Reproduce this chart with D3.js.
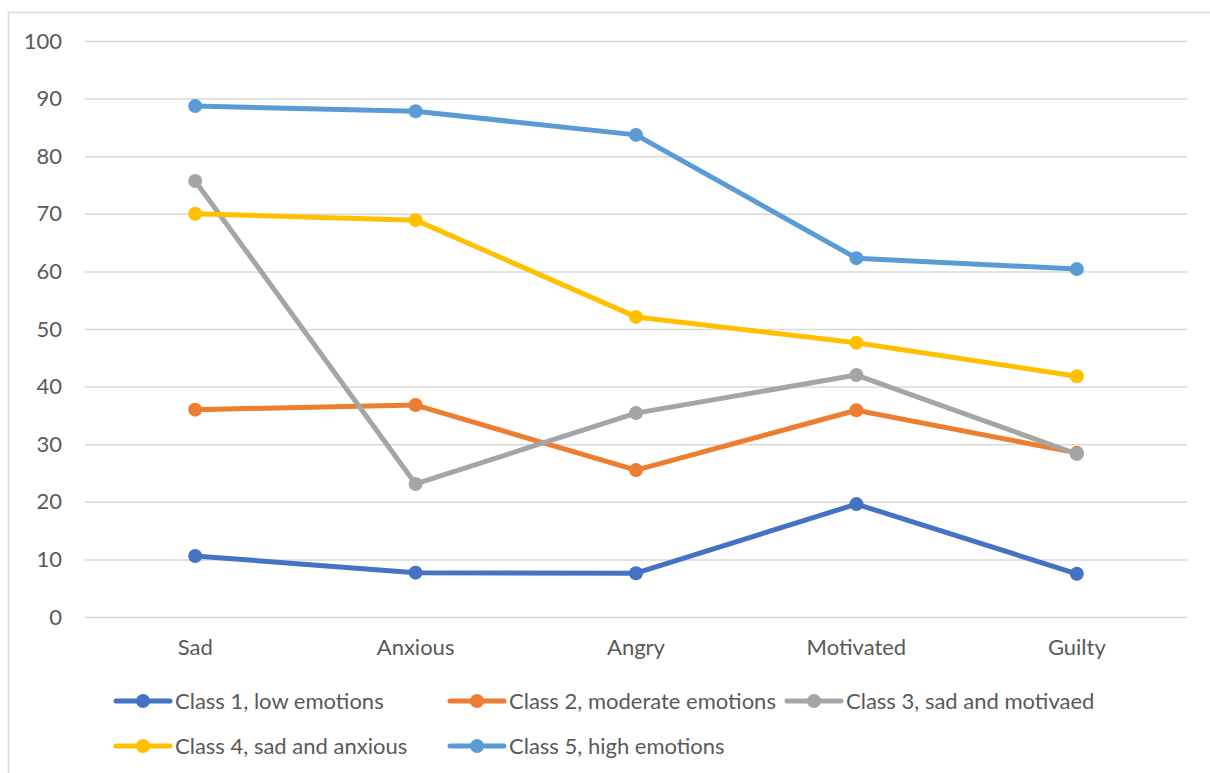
<!DOCTYPE html>
<html>
<head>
<meta charset="utf-8">
<script src="https://cdn.jsdelivr.net/npm/d3@7"></script>
<style>
  html, body { margin: 0; padding: 0; background: #fff; }
  svg { display: block; }
  text { font-family: Lato, "Open Sans", sans-serif; fill: #595959; }
</style>
</head>
<body>
<svg id="chart" width="1210" height="773"></svg>
<script>
// Emotion profile per latent class
const categories = ["Sad", "Anxious", "Angry", "Motivated", "Guilty"];
const seriesNames = [
  "Class 1, low emotions",
  "Class 2, moderate emotions",
  "Class 3, sad and motivaed",
  "Class 4, sad and anxious",
  "Class 5, high emotions"
];
const class1 = [10.6, 7.7, 7.6, 19.6, 7.5];
const class2 = [36.0, 36.8, 25.5, 35.9, 28.5];
const class3 = [75.7, 23.1, 35.4, 42.0, 28.3];
const class4 = [70.0, 68.9, 52.1, 47.6, 41.8];
const class5 = [88.7, 87.8, 83.7, 62.3, 60.4];
const yTicks = [0, 10, 20, 30, 40, 50, 60, 70, 80, 90, 100];
const colors = ["#4472C4", "#ED7D31", "#A5A5A5", "#FFC000", "#5B9BD5"];

const seriesValues = [class1, class2, class3, class4, class5];
const fontSize = 22;

const svg = d3.select("#chart");

// outer chart frame
svg.append("rect")
  .attr("x", 8.5).attr("y", 12.5)
  .attr("width", 1260).attr("height", 800)
  .attr("fill", "none").attr("stroke", "#D9D9D9").attr("stroke-width", 1.5);

const plot = { left: 85, right: 1187, top: 41, bottom: 617 };

const x = d3.scaleBand().domain(categories).range([plot.left, plot.right]).padding(0);
const y = d3.scaleLinear().domain([0, 100]).range([plot.bottom, plot.top]);

// gridlines and value labels
const yAxis = d3.axisLeft(y).tickValues(yTicks)
  .tickSize(-(plot.right - plot.left)).tickPadding(23);
const gy = svg.append("g").attr("transform", `translate(${plot.left},0)`).call(yAxis);
gy.select(".domain").remove();
gy.selectAll(".tick line").attr("stroke", "#D9D9D9").attr("stroke-width", 1.5);
gy.selectAll(".tick text")
  .attr("font-size", fontSize).attr("font-family", "Lato, sans-serif").attr("fill", "#595959");

// category axis labels
const xAxis = d3.axisBottom(x).tickSize(0).tickPadding(22);
const gx = svg.append("g").attr("transform", `translate(0,${plot.bottom})`).call(xAxis);
gx.select(".domain").remove();
gx.selectAll(".tick text")
  .attr("font-size", fontSize).attr("font-family", "Lato, sans-serif").attr("fill", "#595959");

const cx = c => x(c) + x.bandwidth() / 2;
const line = d3.line().x((d, i) => cx(categories[i])).y(d => y(d));

seriesValues.forEach((vals, s) => {
  const g = svg.append("g");
  g.append("path").datum(vals)
    .attr("d", line)
    .attr("fill", "none").attr("stroke", colors[s])
    .attr("stroke-width", 5).attr("stroke-linejoin", "round").attr("stroke-linecap", "round");
  g.selectAll("circle").data(vals).enter().append("circle")
    .attr("cx", (d, i) => cx(categories[i]))
    .attr("cy", d => y(d))
    .attr("r", 7)
    .attr("fill", colors[s]);
});

// legend
const legendPos = [
  { x: 116, y: 701 }, { x: 450, y: 701 }, { x: 787, y: 701 },
  { x: 116, y: 746 }, { x: 450, y: 746 }
];
seriesNames.forEach((name, s) => {
  const p = legendPos[s];
  const g = svg.append("g").attr("transform", `translate(${p.x},${p.y})`);
  g.append("line").attr("x1", 0).attr("x2", 54).attr("y1", 0).attr("y2", 0)
    .attr("stroke", colors[s]).attr("stroke-width", 5).attr("stroke-linecap", "round");
  g.append("circle").attr("cx", 27).attr("cy", 0).attr("r", 7).attr("fill", colors[s]);
  g.append("text").attr("x", 59).attr("y", 0).attr("dy", "0.35em")
    .attr("font-size", fontSize).text(name);
});
</script>
</body>
</html>
